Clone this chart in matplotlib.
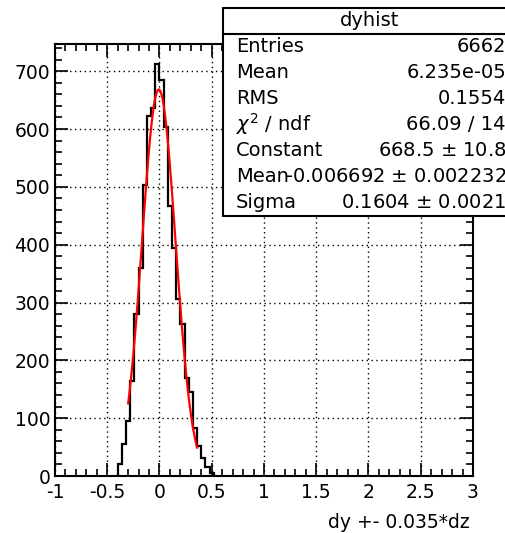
import numpy as np
import matplotlib
matplotlib.use("Agg")
import matplotlib.pyplot as plt
from matplotlib.patches import Rectangle
from matplotlib.lines import Line2D
from matplotlib.ticker import MultipleLocator

# histogram: 0.04 wide bins starting at -0.40 (everything else is empty)
first_edge = -0.40
bin_width = 0.04
counts = [21, 55, 95, 165, 280, 360, 503, 623, 637, 712, 684, 604,
          467, 395, 306, 262, 170, 146, 83, 52, 31, 16, 5]

# gaus fit results from the stats box
fit_const = 668.5
fit_mean = -0.006692
fit_sigma = 0.1604
fit_range = (-0.30, 0.36)

stat_names = ["Entries", "Mean", "RMS", r"$\chi^2$ / ndf", "Constant", "Mean", "Sigma"]
stat_values = ["6662", "6.235e-05", "0.1554", "66.09 / 14",
               "668.5 $\\pm$ 10.8", "-0.006692 $\\pm$ 0.002232", "0.1604 $\\pm$ 0.0021"]

plt.rcParams["font.family"] = ["DejaVu Sans"]
plt.rcParams["mathtext.fontset"] = "dejavusans"

W, H = 506, 533
fig = plt.figure(figsize=(W / 100, H / 100), dpi=100)
ax = fig.add_axes([55 / W, 1 - 476 / H, (473 - 55) / W, (476 - 44) / H])

edges = first_edge + bin_width * np.arange(len(counts) + 1)
ax.stairs(counts, edges, baseline=0, color="black", linewidth=1.6)

xf = np.linspace(fit_range[0], fit_range[1], 100)
yf = fit_const * np.exp(-0.5 * ((xf - fit_mean) / fit_sigma) ** 2)
ax.plot(xf, yf, color="red", linewidth=1.6)

ax.set_xlim(-1, 3)
ax.set_ylim(0, 747)
ax.xaxis.set_major_locator(MultipleLocator(0.5))
ax.xaxis.set_minor_locator(MultipleLocator(0.1))
ax.yaxis.set_major_locator(MultipleLocator(100))
ax.yaxis.set_minor_locator(MultipleLocator(20))
ax.set_xticks(np.arange(-1, 3.01, 0.5))
ax.set_xticklabels(["-1", "-0.5", "0", "0.5", "1", "1.5", "2", "2.5", "3"])

ax.tick_params(which="both", direction="in", top=True, right=True,
               labelsize=13.5, width=1.2, color="black")
ax.tick_params(which="major", length=9.5)
ax.tick_params(which="minor", length=5)
ax.tick_params(axis="x", which="major", pad=5)
ax.tick_params(axis="y", which="major", pad=3.5)
ax.grid(True, which="major", color="black", linestyle=(0, (1, 2.5)), linewidth=1)
for s in ax.spines.values():
    s.set_linewidth(1.5)

fig.text(470 / W, 1 - 522 / H, "dy +- 0.035*dz", ha="right", va="center", fontsize=13.5)

# stats box (runs off the right edge like the original)
x0, x1, ytop, ybot, ysep = 223, 517, 8, 216, 34
fig.add_artist(Rectangle((x0 / W, 1 - ybot / H), (x1 - x0) / W, (ybot - ytop) / H,
                         transform=fig.transFigure, facecolor="white",
                         edgecolor="black", linewidth=1.5, clip_on=False, zorder=5))
fig.add_artist(Line2D([x0 / W, x1 / W], [1 - ysep / H, 1 - ysep / H],
                      transform=fig.transFigure, color="black", linewidth=1.5, zorder=6))
fig.text(370 / W, 1 - 20 / H, "dyhist", ha="center", va="center", fontsize=14, zorder=7)
for i, (name, val) in enumerate(zip(stat_names, stat_values)):
    yy = 1 - (46 + 26.1 * i) / H
    fig.text(236 / W, yy, name, ha="left", va="center", fontsize=14, zorder=7)
    fig.text(506 / W, yy, val, ha="right", va="center", fontsize=14, zorder=7)

fig.savefig("out.png", dpi=100)
